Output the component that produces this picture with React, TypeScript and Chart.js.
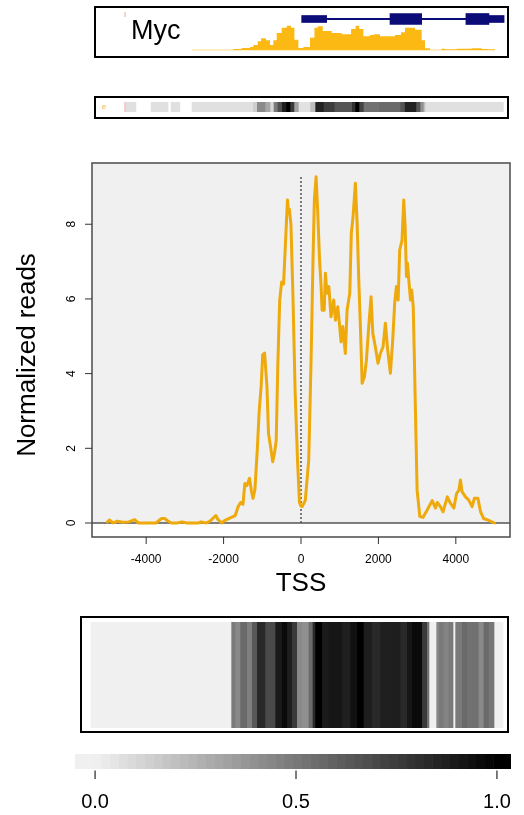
import React, { useEffect, useRef } from "react";
import { Chart, registerables } from "chart.js";
Chart.register(...registerables);

const FONT = '"Liberation Sans", Arial, Helvetica, sans-serif';
const LINE_COLOR = "#EEA90C";
const COVER_COLOR = "#FDB913";
const GENE_COLOR = "#0C0C78";
const AXIS_COLOR = "#555555";

// ---------- main profile (position relative to TSS, bp) ----------
const positions = [-5000,-4950,-4850,-4750,-4600,-4450,-4300,-4200,-4000,-3750,-3600,-3520,-3450,-3350,-3200,-3080,-2950,-2650,-2580,-2450,-2350,-2200,-2150,-2050,-1950,-1800,-1700,-1620,-1560,-1500,-1450,-1400,-1330,-1280,-1240,-1190,-1130,-1080,-1030,-990,-940,-880,-840,-780,-730,-680,-640,-600,-550,-500,-450,-410,-350,-320,-300,-260,-210,-150,-90,-40,0,30,110,200,260,310,345,390,430,480,520,545,600,630,670,720,775,845,890,950,1000,1035,1080,1145,1190,1260,1300,1345,1405,1450,1490,1535,1580,1640,1690,1750,1810,1855,1920,1990,2050,2120,2180,2240,2310,2370,2420,2465,2510,2550,2610,2655,2690,2725,2750,2785,2830,2860,2900,2930,2965,3000,3070,3150,3260,3390,3475,3520,3600,3670,3780,3860,3950,4020,4080,4120,4160,4250,4330,4420,4480,4570,4640,4720,4850,5000];
const reads = [0.03,0.08,0.0,0.05,0.02,0.03,0.09,0.0,0.0,0.0,0.12,0.12,0.06,0.0,0.0,0.03,0.0,0.0,0.03,0.0,0.05,0.2,0.1,0.0,0.08,0.15,0.2,0.45,0.55,0.5,1.06,1.0,1.2,0.85,0.66,0.9,1.95,3.0,3.65,4.5,4.55,3.65,2.4,2.0,1.64,1.9,2.22,4.19,5.97,6.45,6.4,7.3,8.65,8.3,8.4,8.0,6.15,3.47,1.69,0.55,0.45,0.44,0.6,1.69,4.36,7.04,8.65,9.27,8.38,7.04,6.33,5.7,5.7,6.69,6.15,6.33,5.52,5.97,5.43,5.79,5.26,4.85,5.26,4.54,5.7,6.15,7.76,8.2,9.1,8.03,6.6,5.26,3.74,3.92,4.36,5.26,6.06,5.08,4.72,4.28,4.54,4.72,5.35,4.63,4.01,4.9,5.88,6.33,5.97,7.31,7.57,8.65,7.95,6.6,6.96,6.51,5.97,6.24,5.79,4.36,2.58,0.88,0.17,0.15,0.35,0.6,0.4,0.55,0.44,0.3,0.7,0.53,0.4,0.79,0.88,1.15,0.84,0.7,0.62,0.44,0.66,0.66,0.3,0.12,0.07,0.0];
const xTicks = [-4000, -2000, 0, 2000, 4000];
const yTicks = [0, 2, 4, 6, 8];
const xTitle = "TSS";
const yTitle = "Normalized reads";

// ---------- genome browser track ----------
const geneName = "Myc";
const covEdges = [-5000,-3800,-3640,-3360,-3085,-2975,-2830,-2720,-2560,-2425,-2315,-2205,-2040,-1875,-1730,-1620,-1490,-1325,-1105,-960,-850,-685,-390,-60,250,400,520,655,875,1015,1205,1700,1900,2030,2360,2580,2690,2855,3240,3350,3735,4230,4560,4780,5000];
const covHeights = [0.6,0.6,1.3,2.3,3.3,5.3,9,12,10,5.3,10,17.3,22.6,24.6,22.6,10.6,2.3,3.3,12.6,22.6,24,19.3,17.3,16,21.3,24.6,21.3,14,15.3,16,14,15.3,18,22.6,20.6,10,2,0.6,1.6,1,1.6,2,1.3,1];
const geneStart = [-555, -1380, 1535, 4040, 4800];
const geneEnd = [4040, -555, 2580, 4800, 5300];
const geneKind = ["intron", "utr", "cds", "cds", "utr"];
const trackMarker = [-7210];

// ---------- signal strip ----------
const stripStart = [-7180,-6350,-5690,-5000,-3000,-2865,-2590,-2425,-2315,-2185,-2040,-1900,-1765,-1635,-1490,-1105,-940,-665,-300,270,380,510,655,1170,1865,2010,2390,2525,2635,2690];
const stripEnd = [-6850,-5790,-5400,-3000,-2865,-2590,-2425,-2315,-2185,-2040,-1900,-1765,-1635,-1490,-1105,-940,-665,-300,270,380,510,655,1170,1865,2010,2390,2525,2635,2690,5275];
const stripValue = [0.067,0.067,0.067,0.067,0.14,0.42,0.3,0.1,0.49,0.67,0.875,1,0.76,0.33,0.06,0.21,0.86,0.75,0.65,0.8,1,0.72,0.53,0.56,0.65,0.86,0.65,0.4,0.2,0.067];
const stripLabel = "e";

// ---------- heatmap ----------
const heatEdges = [-5000,-1602,-1505,-1384,-1222,-1100,-979,-777,-534,-372,-250,-129,-8,113,275,372,437,599,760,1084,1286,1448,1609,1812,2014,2297,2500,2662,2783,3026,3147,3203,3373,3430,3551,3672,3786,3834,3997,4118,4400,4521,4642,4781,5000];
const heatValues = [0,0.49,0.43,0.56,0.47,0.63,0.83,0.69,0.89,0.96,0.875,0.76,0.43,0.4,0.56,0.83,1,0.89,0.91,0.87,0.93,1,0.875,0.83,0.87,0.875,0.83,0.91,0.96,0.76,0.53,0,0.43,0.49,0.45,0.49,0,0.49,0.56,0.53,0.43,0.56,0.51,0];

// ---------- colour key ----------
const keyTicks = [0, 0.5, 1];
const keyLabels = ["0.0", "0.5", "1.0"];
const keyMin = -0.05;
const keyMax = 1.035;
const keySteps = 50;

const greyOf = (v: number) => {
  const g = Math.round(240 * (1 - Math.max(0, Math.min(1, v))));
  return `rgb(${g},${g},${g})`;
};

const baseOptions = (extra: any) => ({
  animation: false,
  responsive: false,
  events: [],
  plugins: { legend: { display: false }, tooltip: { enabled: false } },
  ...extra,
});

function hbarConfig(
  starts: number[],
  ends: number[],
  colors: string[],
  xmin: number,
  xmax: number,
  padding: any,
  thickness: (number | null)[] | null,
  plugins: any[]
) {
  return {
    type: "bar",
    data: {
      labels: ["row"],
      datasets: starts.map((s, i) => {
        const ds: any = {
          data: [[s, ends[i]]],
          backgroundColor: colors[i],
          borderWidth: 0,
          grouped: false,
          barPercentage: 1,
          categoryPercentage: 1,
        };
        if (thickness && thickness[i] != null) ds.barThickness = thickness[i];
        return ds;
      }),
    },
    options: baseOptions({
      indexAxis: "y",
      layout: { padding },
      scales: {
        x: { type: "linear", min: xmin, max: xmax, display: false },
        y: { display: false },
      },
    }),
    plugins,
  };
}

// track x-range (bp) shared by the browser track and the strip
const TRACK_MIN = -8168;
const TRACK_MAX = 5396;

function buildMain() {
  const plugin = {
    id: "rbase",
    beforeDatasetsDraw(chart: any) {
      const { ctx, chartArea: a, scales } = chart;
      const x = scales.x, y = scales.y;
      const y0 = y.getPixelForValue(0);
      ctx.save();
      ctx.fillStyle = "#f0f0f0";
      ctx.fillRect(a.left, a.top, a.right - a.left, y0 - a.top);
      ctx.strokeStyle = AXIS_COLOR;
      ctx.lineWidth = 1.5;
      ctx.beginPath();
      ctx.moveTo(a.left, y0);
      ctx.lineTo(a.right, y0);
      ctx.stroke();
      const x0 = x.getPixelForValue(0);
      ctx.setLineDash([2, 2]);
      ctx.lineWidth = 1.5;
      ctx.beginPath();
      ctx.moveTo(x0, y0);
      ctx.lineTo(x0, y.getPixelForValue(Math.max(...reads)));
      ctx.stroke();
      ctx.restore();
    },
    afterDraw(chart: any) {
      const { ctx, chartArea: a, scales } = chart;
      const x = scales.x, y = scales.y;
      ctx.save();
      ctx.strokeStyle = AXIS_COLOR;
      ctx.lineWidth = 1.6;
      ctx.strokeRect(a.left, a.top, a.right - a.left, a.bottom - a.top);
      ctx.strokeStyle = "#333";
      ctx.lineWidth = 1;
      ctx.fillStyle = "#000";
      ctx.font = `12px ${FONT}`;
      ctx.textAlign = "center";
      ctx.textBaseline = "middle";
      for (const v of xTicks) {
        const px = x.getPixelForValue(v);
        ctx.beginPath();
        ctx.moveTo(px, a.bottom);
        ctx.lineTo(px, a.bottom + 7);
        ctx.stroke();
        ctx.fillText(String(v), px, a.bottom + 23);
      }
      for (const v of yTicks) {
        const py = y.getPixelForValue(v);
        ctx.beginPath();
        ctx.moveTo(a.left - 7, py);
        ctx.lineTo(a.left, py);
        ctx.stroke();
        ctx.save();
        ctx.translate(a.left - 20, py);
        ctx.rotate(-Math.PI / 2);
        ctx.fillText(String(v), 0, 0);
        ctx.restore();
      }
      ctx.font = `26px ${FONT}`;
      ctx.fillText(xTitle, (a.left + a.right) / 2, a.bottom + 47);
      ctx.save();
      ctx.translate(28, (a.top + a.bottom) / 2 + 5);
      ctx.rotate(-Math.PI / 2);
      ctx.fillText(yTitle, 0, 0);
      ctx.restore();
      ctx.restore();
    },
  };
  return {
    type: "line",
    data: {
      datasets: [
        {
          data: positions.map((p, i) => ({ x: p, y: reads[i] })),
          borderColor: LINE_COLOR,
          borderWidth: 3,
          pointRadius: 0,
          tension: 0,
          fill: false,
          borderJoinStyle: "round",
          borderCapStyle: "round",
        },
      ],
    },
    options: baseOptions({
      layout: { padding: { left: 92, right: 14, top: 13, bottom: 73 } },
      scales: {
        x: { type: "linear", min: -5400, max: 5400, display: false },
        y: { type: "linear", min: -0.375, max: 9.64, display: false },
      },
    }),
    plugins: [plugin],
  };
}

function buildCoverage() {
  const pts: { x: number; y: number }[] = [];
  covHeights.forEach((h, i) => {
    pts.push({ x: covEdges[i], y: h });
    pts.push({ x: covEdges[i + 1], y: h });
  });
  const plugin = {
    id: "trackText",
    afterDraw(chart: any) {
      const { ctx, scales } = chart;
      ctx.save();
      ctx.fillStyle = "#000";
      ctx.font = `27px ${FONT}`;
      ctx.textAlign = "left";
      ctx.textBaseline = "alphabetic";
      ctx.fillText(geneName, 35, 31);
      ctx.strokeStyle = "#f4a0a0";
      ctx.lineWidth = 1;
      for (const m of trackMarker) {
        const px = scales.x.getPixelForValue(m);
        ctx.beginPath();
        ctx.moveTo(px, 4);
        ctx.lineTo(px, 9);
        ctx.stroke();
      }
      ctx.restore();
    },
  };
  return {
    type: "line",
    data: {
      datasets: [
        {
          data: pts,
          borderWidth: 0,
          borderColor: COVER_COLOR,
          backgroundColor: COVER_COLOR,
          fill: "origin",
          pointRadius: 0,
          tension: 0,
        },
      ],
    },
    options: baseOptions({
      layout: { padding: 0 },
      scales: {
        x: { type: "linear", min: TRACK_MIN, max: TRACK_MAX, display: false },
        y: { type: "linear", min: -5.7, max: 42.3, display: false },
      },
    }),
    plugins: [plugin],
  };
}

function buildGene() {
  const thick = geneKind.map((k) => (k === "cds" ? 11 : k === "utr" ? 7 : 1.5));
  return hbarConfig(geneStart, geneEnd, geneKind.map(() => GENE_COLOR), TRACK_MIN, TRACK_MAX, 0, thick, []);
}

function buildStrip() {
  const plugin = {
    id: "stripText",
    afterDraw(chart: any) {
      const { ctx, scales } = chart;
      ctx.save();
      ctx.fillStyle = "#f5b041";
      ctx.font = `8px ${FONT}`;
      ctx.textAlign = "center";
      ctx.textBaseline = "middle";
      ctx.fillText(stripLabel, 8, 9);
      ctx.strokeStyle = "#f4a0a0";
      ctx.lineWidth = 1;
      for (const m of trackMarker) {
        const px = scales.x.getPixelForValue(m);
        ctx.beginPath();
        ctx.moveTo(px, 4);
        ctx.lineTo(px, 14);
        ctx.stroke();
      }
      ctx.restore();
    },
  };
  return hbarConfig(
    stripStart,
    stripEnd,
    stripValue.map(greyOf),
    TRACK_MIN,
    TRACK_MAX,
    { top: 4, bottom: 5 },
    null,
    [plugin]
  );
}

function buildHeat() {
  return hbarConfig(
    heatEdges.slice(0, -1),
    heatEdges.slice(1),
    heatValues.map(greyOf),
    -5218,
    5096,
    { top: 4, bottom: 3 },
    null,
    []
  );
}

function buildKey() {
  const w = (keyMax - keyMin) / keySteps;
  const starts = Array.from({ length: keySteps }, (_, i) => keyMin + i * w);
  const ends = starts.map((s) => s + w);
  const cols = starts.map((s) => greyOf(s + w / 2));
  const plugin = {
    id: "keyAxis",
    afterDraw(chart: any) {
      const { ctx, chartArea: a, scales } = chart;
      ctx.save();
      ctx.strokeStyle = "#444";
      ctx.lineWidth = 1.4;
      ctx.fillStyle = "#000";
      ctx.font = `20px ${FONT}`;
      ctx.textAlign = "center";
      ctx.textBaseline = "alphabetic";
      keyTicks.forEach((v, i) => {
        const px = scales.x.getPixelForValue(v);
        ctx.beginPath();
        ctx.moveTo(px, a.bottom + 1.5);
        ctx.lineTo(px, a.bottom + 10);
        ctx.stroke();
        ctx.fillText(keyLabels[i], px, a.bottom + 39);
      });
      ctx.restore();
    },
  };
  return hbarConfig(starts, ends, cols, keyMin, keyMax, { bottom: 46 }, null, [plugin]);
}

function ChartCanvas({ left, top, width, height, build }: { left: number; top: number; width: number; height: number; build: () => any }) {
  const ref = useRef<HTMLCanvasElement | null>(null);
  useEffect(() => {
    if (!ref.current) return;
    const chart = new Chart(ref.current, build());
    return () => chart.destroy();
  }, [build]);
  return (
    <canvas
      ref={ref}
      width={width}
      height={height}
      style={{ position: "absolute", left, top, width, height, display: "block" }}
    />
  );
}

function Frame({ left, top, width, height }: { left: number; top: number; width: number; height: number }) {
  return (
    <div
      style={{
        position: "absolute",
        left,
        top,
        width,
        height,
        border: "2px solid #000",
        boxSizing: "border-box",
      }}
    />
  );
}

export default function App() {
  return (
    <div style={{ position: "absolute", left: 0, top: 0, width: 524, height: 815, background: "#fff", overflow: "hidden", fontFamily: FONT }}>
      <Frame left={94} top={6} width={415} height={52} />
      <ChartCanvas left={96} top={8} width={411} height={48} build={buildCoverage} />
      <ChartCanvas left={96} top={8} width={411} height={22} build={buildGene} />
      <Frame left={94} top={96} width={415} height={23} />
      <ChartCanvas left={96} top={98} width={411} height={19} build={buildStrip} />
      <ChartCanvas left={0} top={150} width={524} height={460} build={buildMain} />
      <Frame left={80} top={616} width={429} height={117} />
      <ChartCanvas left={82} top={618} width={425} height={113} build={buildHeat} />
      <ChartCanvas left={75} top={754} width={436} height={61} build={buildKey} />
    </div>
  );
}
